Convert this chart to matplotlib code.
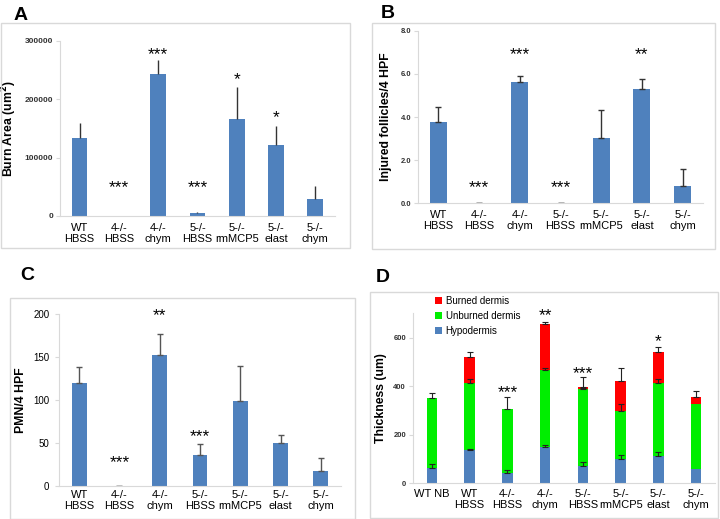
import matplotlib
matplotlib.use("Agg")
import matplotlib.pyplot as plt
from matplotlib.patches import Rectangle
import numpy as np

plt.rcParams['font.family'] = ['Liberation Sans', 'DejaVu Sans']

# ---------------- data ----------------
cats7 = ["WT\nHBSS", "4-/-\nHBSS", "4-/-\nchym", "5-/-\nHBSS", "5-/-\nrmMCP5", "5-/-\nelast", "5-/-\nchym"]
cats8 = ["WT NB", "WT\nHBSS", "4-/-\nHBSS", "4-/-\nchym", "5-/-\nHBSS", "5-/-\nrmMCP5", "5-/-\nelast", "5-/-\nchym"]

burn_area = [134000, 0, 243000, 4600, 166500, 121000, 28400]
burn_area_err = [26000, 0, 24600, 2400, 53500, 32400, 22200]
burn_area_sig = ["", "***", "***", "***", "*", "*", ""]

follicles = [3.78, 0.02, 5.60, 0.02, 3.04, 5.28, 0.81]
follicles_err = [0.68, 0, 0.28, 0, 1.27, 0.46, 0.79]
follicles_sig = ["", "***", "***", "***", "", "**", ""]

pmn = [119.8, 0, 152.9, 35.8, 98.8, 49.5, 16.8]
pmn_err = [18.7, 0, 24.1, 12.5, 40.9, 9.7, 15.2]
pmn_sig = ["", "***", "**", "***", "", "", ""]

hypodermis = [62, 137, 41, 151, 71, 99, 114, 60]
unburned = [288, 275, 266, 316, 316, 200, 298, 265]
burned = [0, 110, 0, 188, 10, 121, 129, 29]
hypodermis_err = [16, 5, 14, 7, 18, 18, 16, 0]
unburned_err = [21, 18, 48, 7, 5, 28, 16, 0]
burned_err = [0, 20, 0, 11, 40, 56, 22, 26]
thick_sig = ["", "", "***", "**", "***", "", "*", ""]

BLUE = "#4F81BD"
RED = "#FF0000"
GREEN = "#00EE00"
GRID = "#D9D9D9"

W, H = 720, 519
fig = plt.figure(figsize=(W / 100, H / 100), dpi=100)


def rect(l, r, t, b):
    return [l / W, 1 - b / H, (r - l) / W, (b - t) / H]


def frame(l, t, r, b):
    fig.add_artist(Rectangle((l / W, 1 - b / H), (r - l) / W, (b - t) / H,
                             transform=fig.transFigure, fill=False,
                             edgecolor=GRID, linewidth=1.0))


def style(ax, n, ticksize, tickweight):
    for s in ["top", "right"]:
        ax.spines[s].set_visible(False)
    for s in ["left", "bottom"]:
        ax.spines[s].set_color(GRID)
        ax.spines[s].set_linewidth(0.8)
    ax.set_xlim(-0.5, n - 0.5)
    ax.tick_params(axis="x", length=0, pad=5, labelsize=8)
    ax.tick_params(axis="y", length=3, color=GRID, labelsize=ticksize,
                   labelcolor="#333333", pad=2)
    for lab in ax.get_yticklabels():
        lab.set_fontweight(tickweight)
    for lab in ax.get_xticklabels():
        lab.set_linespacing(1.15)


def stars(ax, x, y, s, size=12.5):
    ax.annotate(s, (x, y), xytext=(0, -5), textcoords="offset points",
                ha="center", va="baseline", fontsize=size, color="black",
                annotation_clip=False)


YL = 8.8

# ---------------- Panel A ----------------
frame(1, 23, 350, 248)
axA = fig.add_axes(rect(60, 335, 40.7, 216))
x7 = np.arange(len(cats7))
axA.bar(x7, burn_area, width=0.4, color=BLUE,
        yerr=[np.zeros(7), burn_area_err], error_kw=dict(ecolor="#333333", elinewidth=1, capsize=0))
axA.set_ylim(0, 300000)
axA.set_yticks([0, 100000, 200000, 300000])
axA.set_xticks(x7)
axA.set_xticklabels(cats7)
style(axA, 7, 6, "bold")
axA.set_ylabel("Burn Area (um$^\\mathbf{2}$)", fontsize=YL, fontweight="bold")
axA.yaxis.set_label_coords(-0.15, 0.5)
for x, y in zip(x7, [52800, 52800, 280000, 52800, 237000, 172000, 0]):
    if burn_area_sig[x]:
        stars(axA, x, y, burn_area_sig[x])
fig.text(14 / W, 1 - 15 / H, "A", fontsize=14, fontweight="bold", va="center")

# ---------------- Panel B ----------------
frame(372, 23, 715, 249)
axB = fig.add_axes(rect(418, 703, 30.7, 203.3))
axB.bar(x7, follicles, width=0.42, color=BLUE,
        yerr=[np.zeros(7), follicles_err], error_kw=dict(ecolor="#333333", elinewidth=1, capsize=2))
axB.set_ylim(0, 8)
axB.set_yticks([0, 2, 4, 6, 8])
axB.set_yticklabels(["0.0", "2.0", "4.0", "6.0", "8.0"])
axB.set_xticks(x7)
axB.set_xticklabels(cats7)
style(axB, 7, 5.5, "bold")
axB.set_ylabel("Injured follicles/4 HPF", fontsize=YL, fontweight="bold")
axB.yaxis.set_label_coords(-0.092, 0.5)
for x, y in zip(x7, [0.85, 0.85, 7.02, 0.85, 0, 7.02, 0]):
    if follicles_sig[x]:
        stars(axB, x, y, follicles_sig[x])
fig.text(381 / W, 1 - 13 / H, "B", fontsize=14, fontweight="bold", va="center")

# ---------------- Panel C ----------------
frame(10, 298, 355, 519)
axC = fig.add_axes(rect(59, 341, 314.3, 485.7))
axC.bar(x7, pmn, width=0.37, color=BLUE,
        yerr=[np.zeros(7), pmn_err], error_kw=dict(ecolor="#555555", elinewidth=1, capsize=2))
axC.set_ylim(0, 200)
axC.set_yticks([0, 50, 100, 150, 200])
axC.set_xticks(x7)
axC.set_xticklabels(cats7)
style(axC, 7, 7, "normal")
axC.tick_params(axis="x", pad=3)
axC.tick_params(axis="y", labelcolor="black", pad=4)
axC.set_ylabel("PMN/4 HPF", fontsize=YL, fontweight="bold")
axC.yaxis.set_label_coords(-0.115, 0.5)
for x, y in zip(x7, [0, 30, 201, 60, 0, 0, 0]):
    if pmn_sig[x]:
        stars(axC, x, y, pmn_sig[x])
fig.text(20 / W, 1 - 276 / H, "C", fontsize=14, fontweight="bold", va="center")

# ---------------- Panel D ----------------
frame(370, 292, 718, 518)
axD = fig.add_axes(rect(413, 715, 313.4, 483.3))
x8 = np.arange(len(cats8))
ek = dict(ecolor="#222222", elinewidth=0.8, capsize=2, capthick=0.8)
hyp = np.array(hypodermis)
unb = np.array(unburned)
brn = np.array(burned)
bw = 0.28
axD.bar(x8, brn, width=bw, bottom=hyp + unb, color=RED, label="Burned dermis")
axD.bar(x8, unb, width=bw, bottom=hyp, color=GREEN, label="Unburned dermis")
axD.bar(x8, hyp, width=bw, color=BLUE, label="Hypodermis")
for vals, errs, base in [(hyp, hypodermis_err, 0), (unb, unburned_err, hyp), (brn, burned_err, hyp + unb)]:
    top = vals + base
    m = (np.array(errs) > 0) & (vals > 0)
    axD.errorbar(x8[m], top[m], yerr=[np.zeros(m.sum()), np.array(errs)[m]], fmt="none", **ek)
axD.set_ylim(0, 700)
axD.set_yticks([0, 200, 400, 600])
axD.set_xticks(x8)
axD.set_xticklabels(cats8)
style(axD, 8, 5.5, "bold")
axD.tick_params(axis="x", pad=4)
axD.set_ylabel("Thickness (um)", fontsize=YL, fontweight="bold")
axD.yaxis.set_label_coords(-0.085, 0.5)
for x, y in zip(x8, [0, 0, 384, 700, 464, 0, 594, 0]):
    if thick_sig[x]:
        stars(axD, x, y, thick_sig[x])
leg = axD.legend(loc="upper left", bbox_to_anchor=(0.06, 1.125), frameon=False,
                 fontsize=7, handlelength=0.7, handleheight=0.7, handletextpad=0.4,
                 labelspacing=0.5, borderaxespad=0)
fig.text(376 / W, 1 - 277 / H, "D", fontsize=14, fontweight="bold", va="center")

fig.savefig("out.png", dpi=100)
